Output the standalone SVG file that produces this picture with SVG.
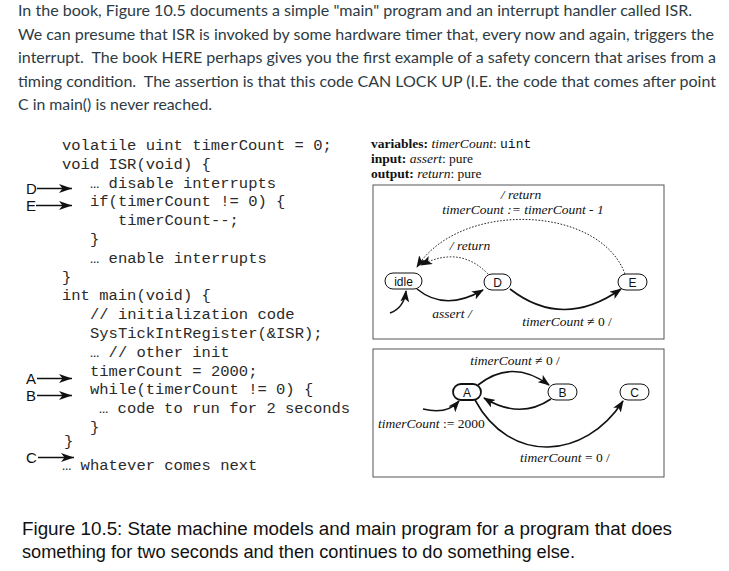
<svg xmlns="http://www.w3.org/2000/svg" width="729" height="571" viewBox="0 0 729 571">
<style>
.para{font-family:Lato,"Liberation Sans",sans-serif;font-size:16px;fill:#2d3b45;white-space:pre}
.code{font-family:"Liberation Mono","DejaVu Sans Mono",monospace;font-size:15.5px;fill:#2a2a2a}
.lbl{font-family:"Liberation Sans",Arial,sans-serif;font-size:15px;fill:#111}
.sm{font-family:"Liberation Serif","Times New Roman",serif;font-size:13.5px;fill:#111}
.it{font-style:italic}
.bd{font-weight:bold}
.mono{font-family:"Liberation Mono",monospace;font-size:13px}
.node rect{fill:#fff;stroke:#111;stroke-width:1}
.node text{font-family:"Liberation Sans",Arial,sans-serif;font-size:12px;fill:#111;text-anchor:middle}
.box{fill:#fff;stroke:#555;stroke-width:1}
.arc{fill:none;stroke:#111;stroke-width:1.6}
.dot{fill:none;stroke:#222;stroke-width:1;stroke-dasharray:1.6 1.6}
.carr{fill:none;stroke:#111;stroke-width:1.3}
.cap{font-family:"Liberation Sans",Arial,sans-serif;font-size:18px;fill:#111}
</style>
<defs>
<marker id="ah" markerUnits="userSpaceOnUse" markerWidth="12" markerHeight="9" refX="11" refY="4.5" orient="auto">
<path d="M0,0 L12,4.5 L0,9 L3,4.5 z" fill="#111"/>
</marker>
<marker id="ahc" markerUnits="userSpaceOnUse" markerWidth="13" markerHeight="9" refX="13" refY="4.5" orient="auto">
<path d="M0,0 L13,4.5 L0,9 L3.5,4.5 z" fill="#111"/>
</marker>
</defs>
<rect width="729" height="571" fill="#fff"/>

<g id="paragraph">
<text class="para" x="18" y="16" textLength="674" lengthAdjust="spacingAndGlyphs">In the book, Figure 10.5 documents a simple "main" program and an interrupt handler called ISR.</text>
<text class="para" x="18" y="39.5" textLength="696" lengthAdjust="spacingAndGlyphs">We can presume that ISR is invoked by some hardware timer that, every now and again, triggers the</text>
<text class="para" x="18" y="63" textLength="698" lengthAdjust="spacingAndGlyphs" xml:space="preserve">interrupt.  The book HERE perhaps gives you the first example of a safety concern that arises from a</text>
<text class="para" x="18" y="86.5" textLength="698" lengthAdjust="spacingAndGlyphs" xml:space="preserve">timing condition.  The assertion is that this code CAN LOCK UP (I.E. the code that comes after point</text>
<text class="para" x="18" y="110" textLength="194" lengthAdjust="spacingAndGlyphs">C in main() is never reached.</text>
</g>

<g id="code">
<text class="code" x="62" y="150">volatile uint timerCount = 0;</text>
<text class="code" x="62" y="168.8">void ISR(void) {</text>
<text class="code" x="90" y="187.6">… disable interrupts</text>
<text class="code" x="90" y="206.4">if(timerCount != 0) {</text>
<text class="code" x="118" y="225.2">timerCount--;</text>
<text class="code" x="90" y="244">}</text>
<text class="code" x="90" y="262.8">… enable interrupts</text>
<text class="code" x="62" y="281.6">}</text>
<text class="code" x="62" y="300.4">int main(void) {</text>
<text class="code" x="90" y="319.2">// initialization code</text>
<text class="code" x="90" y="338">SysTickIntRegister(&amp;ISR);</text>
<text class="code" x="90" y="356.8">… // other init</text>
<text class="code" x="90" y="375.6">timerCount = 2000;</text>
<text class="code" x="90" y="394.4">while(timerCount != 0) {</text>
<text class="code" x="99" y="413.2">… code to run for 2 seconds</text>
<text class="code" x="90" y="432">}</text>
<text class="code" x="64" y="446">}</text>
<text class="code" x="62" y="469.6">… whatever comes next</text>
</g>

<g id="code-markers">
<g id="mark-D"><text class="lbl" x="26" y="194">D</text><line class="carr" x1="37" y1="188.5" x2="72" y2="188.5" marker-end="url(#ahc)"/></g>
<g id="mark-E"><text class="lbl" x="26" y="211">E</text><line class="carr" x1="36" y1="205.5" x2="72" y2="205.5" marker-end="url(#ahc)"/></g>
<g id="mark-A"><text class="lbl" x="26" y="384">A</text><line class="carr" x1="37" y1="378.5" x2="72" y2="378.5" marker-end="url(#ahc)"/></g>
<g id="mark-B"><text class="lbl" x="26" y="401">B</text><line class="carr" x1="37" y1="395.5" x2="72" y2="395.5" marker-end="url(#ahc)"/></g>
<g id="mark-C"><text class="lbl" x="26" y="463">C</text><line class="carr" x1="38" y1="457.5" x2="74" y2="457.5" marker-end="url(#ahc)"/></g>
</g>

<g id="header">
<text class="sm" x="371" y="148"><tspan class="bd">variables:</tspan> <tspan class="it">timerCount</tspan>: <tspan class="mono">uint</tspan></text>
<text class="sm" x="371" y="163"><tspan class="bd">input:</tspan> <tspan class="it">assert</tspan>: pure</text>
<text class="sm" x="371" y="178"><tspan class="bd">output:</tspan> <tspan class="it">return</tspan>: pure</text>
</g>

<rect id="box1" class="box" x="373" y="185" width="291" height="154"/>
<rect id="box2" class="box" x="373" y="349" width="291" height="128"/>

<g id="connectors">
<path class="dot" d="M625 274 C600 205 460 200 417 267" marker-end="url(#ah)"/>
<path class="dot" d="M488 274 Q460 245 421 265" marker-end="url(#ah)"/>
<path class="arc" d="M417 289 Q445 312 483 290" marker-end="url(#ah)"/>
<path class="arc" d="M390 313 Q404 308 406 291" marker-end="url(#ah)"/>
<path class="arc" d="M510 289 Q563 330 621 289" marker-end="url(#ah)"/>
<path class="arc" d="M478 385 Q512 358 549 385" marker-end="url(#ah)"/>
<path class="arc" d="M551 399 Q520 420 484 398" marker-end="url(#ah)"/>
<path class="arc" d="M423 409 Q447 415 459 401" marker-end="url(#ah)"/>
<path class="arc" d="M475 400 C510 465 585 460 623 401" marker-end="url(#ah)"/>
</g>

<g id="labels">
<text class="sm it" x="521" y="199" text-anchor="middle">/ return</text>
<text class="sm it" x="523" y="214" text-anchor="middle">timerCount := timerCount - 1</text>
<text class="sm it" x="470" y="250" text-anchor="middle">/ return</text>
<text class="sm it" x="452" y="318" text-anchor="middle">assert /</text>
<text class="sm" x="567" y="326" text-anchor="middle"><tspan class="it">timerCount</tspan> ≠ 0  /</text>
<text class="sm" x="515" y="365" text-anchor="middle"><tspan class="it">timerCount</tspan> ≠ 0  /</text>
<text class="sm" x="378" y="428"><tspan class="it">timerCount</tspan> := 2000</text>
<text class="sm" x="565" y="462" text-anchor="middle"><tspan class="it">timerCount</tspan> = 0  /</text>
</g>

<g id="node-idle" class="node"><rect x="385" y="273" width="37" height="16" rx="8"/><text x="403.5" y="285.5">idle</text></g>
<g id="node-D" class="node"><rect x="484" y="274" width="27" height="16" rx="8"/><text x="497.5" y="286.5">D</text></g>
<g id="node-E" class="node"><rect x="618" y="274" width="29" height="16" rx="8"/><text x="632.5" y="286.5">E</text></g>
<g id="node-A" class="node"><rect x="453" y="384" width="28" height="16" rx="8" style="stroke-width:1.8"/><text x="467" y="396.5">A</text></g>
<g id="node-B" class="node"><rect x="548" y="384" width="29" height="16" rx="8"/><text x="562.5" y="396.5">B</text></g>
<g id="node-C" class="node"><rect x="620" y="384" width="29" height="16" rx="8"/><text x="634.5" y="396.5">C</text></g>

<g id="caption">
<text class="cap" x="22" y="535" textLength="650" lengthAdjust="spacingAndGlyphs">Figure 10.5: State machine models and main program for a program that does</text>
<text class="cap" x="22" y="558" textLength="553" lengthAdjust="spacingAndGlyphs">something for two seconds and then continues to do something else.</text>
</g>
</svg>
